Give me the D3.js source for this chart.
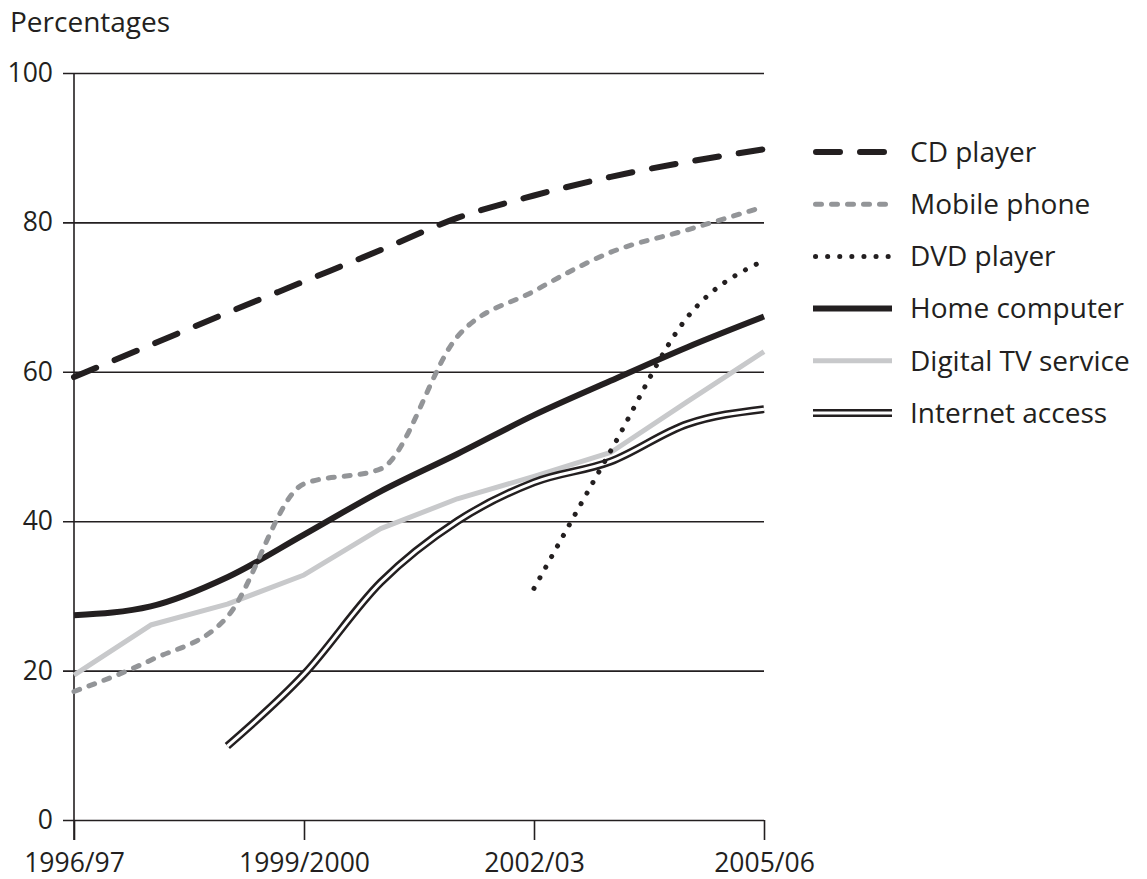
<!DOCTYPE html>
<html>
<head>
<meta charset="utf-8">
<script src="https://cdn.jsdelivr.net/npm/d3@7"></script>
<style>
  body { margin: 0; background: #fff; }
  svg text { font-family: "Open Sans", "Noto Sans", sans-serif; fill: #231f20; }
</style>
</head>
<body>
<svg id="svg1" width="1147" height="879"></svg>
<script>
// years on the x axis, only four get a label
var years = ['1996/97', '1997/98', '1998/99', '1999/2000', '2000/01',
             '2001/02', '2002/03', '2003/04', '2004/05', '2005/06'];
var yearLabels = ['1996/97', '1999/2000', '2002/03', '2005/06'];
var yTicks = [0, 20, 40, 60, 80, 100];

// percentages, null = no data that year
var cdPlayer     = [59.3, 63.6, 67.9, 72.1, 76.3, 80.6, 83.6, 86.1, 88.1, 89.8];
var mobilePhone  = [17.2, 21.4, 27.2, 45.0, 47.0, 64.7, 70.8, 76.0, 79.0, 82.1];
var dvdPlayer    = [null, null, null, null, null, null, 31.0, 49.4, 67.3, 74.9];
var homeComputer = [27.4, 28.6, 32.5, 38.2, 44.0, 49.0, 54.2, 58.8, 63.3, 67.4];
var digitalTV    = [19.4, 26.1, 28.9, 32.8, 39.0, 43.0, 46.0, 49.2, 56.0, 62.7];
var internet     = [null, null, 9.9, 19.5, 31.8, 40.0, 45.2, 48.0, 53.0, 55.0];

var seriesNames = ['CD player', 'Mobile phone', 'DVD player', 'Home computer', 'Digital TV service', 'Internet access'];
var seriesValues = [cdPlayer, mobilePhone, dvdPlayer, homeComputer, digitalTV, internet];

var ink = '#231f20';
var font = '"Open Sans", "Noto Sans", sans-serif';

// look of each line
var styles = {
    'CD player':          {color: ink, width: 6, dash: '24,20', cap: 'round'},
    'Mobile phone':       {color: '#939598', width: 5, dash: '6,10', cap: 'round'},
    'DVD player':         {color: ink, width: 5, dash: '0.1,12', cap: 'round'},
    'Home computer':      {color: ink, width: 6, dash: null, cap: 'butt'},
    'Digital TV service': {color: '#c8c9cb', width: 5, dash: null, cap: 'butt', straight: true},
    'Internet access':    {color: ink, width: 8, dash: null, cap: 'butt', double: true}
};

var svg = d3.select('svg');

var x = d3.scalePoint()
    .domain(years)
    .range([74, 764]);

var y = d3.scaleLinear()
    .domain([0, 100])
    .range([820, 73]);

// grid lines + y labels
var yAxis = svg.append('g')
    .attr('transform', 'translate(63,0)')
    .call(d3.axisLeft(y).tickValues(yTicks).tickSize(-(764 - 63)).tickPadding(10));
yAxis.select('.domain').remove();
yAxis.selectAll('line').attr('stroke', ink).attr('stroke-width', 1.6);
yAxis.selectAll('text').attr('font-size', 26.5).attr('fill', ink)
    .style('font-family', font);

// x ticks below the zero line
var xAxis = svg.append('g')
    .attr('transform', 'translate(0,' + y(0) + ')')
    .call(d3.axisBottom(x).tickValues(yearLabels).tickSize(20).tickPadding(13));
xAxis.select('.domain').remove();
xAxis.selectAll('line').attr('stroke', ink).attr('stroke-width', 1.6);
xAxis.selectAll('text').attr('font-size', 26.5).attr('fill', ink)
    .style('font-family', font);

// vertical axis line
svg.append('line')
    .attr('x1', x(years[0])).attr('x2', x(years[0]))
    .attr('y1', y(100)).attr('y2', y(0) + 20)
    .attr('stroke', ink).attr('stroke-width', 1.6);

svg.append('text')
    .attr('x', 10).attr('y', 32)
    .attr('font-size', 28)
    .text('Percentages');

var smoothLine = d3.line()
    .defined(function(d) { return d != null; })
    .x(function(d, i) { return x(years[i]); })
    .y(function(d) { return y(d); })
    .curve(d3.curveMonotoneX);

var straightLine = d3.line()
    .defined(function(d) { return d != null; })
    .x(function(d, i) { return x(years[i]); })
    .y(function(d) { return y(d); });

function drawStroke(g, d, st) {
    var p = g.append('path')
        .attr('d', d)
        .attr('fill', 'none')
        .attr('stroke', st.color)
        .attr('stroke-width', st.width)
        .attr('stroke-linecap', st.cap)
        .attr('stroke-linejoin', 'round');
    if (st.dash) p.attr('stroke-dasharray', st.dash);
    if (st.double) {
        g.append('path')
            .attr('d', d)
            .attr('fill', 'none')
            .attr('stroke', '#fff')
            .attr('stroke-width', 3);
    }
}

// draw order: back ones first
var order = [4, 5, 3, 1, 2, 0];
order.forEach(function(k) {
    var st = styles[seriesNames[k]];
    var g = svg.append('g').attr('class', 'series');
    var gen = st.straight ? straightLine : smoothLine;
    drawStroke(g, gen(seriesValues[k]), st);
});

// legend
var legend = svg.selectAll('.legendRow')
    .data(seriesNames)
    .enter()
    .append('g')
    .attr('class', 'legendRow')
    .attr('transform', function(d, i) { return 'translate(813,' + (152 + i * 52.2) + ')'; });

legend.each(function(name) {
    var g = d3.select(this);
    var st = styles[name];
    var x0 = st.cap == 'round' ? st.width / 2 : 0;
    drawStroke(g, 'M' + x0 + ',0L' + (79 - x0) + ',0', st);
    g.append('text')
        .attr('x', 97)
        .attr('dy', '0.35em')
        .attr('font-size', 28)
        .text(name);
});
</script>
</body>
</html>
